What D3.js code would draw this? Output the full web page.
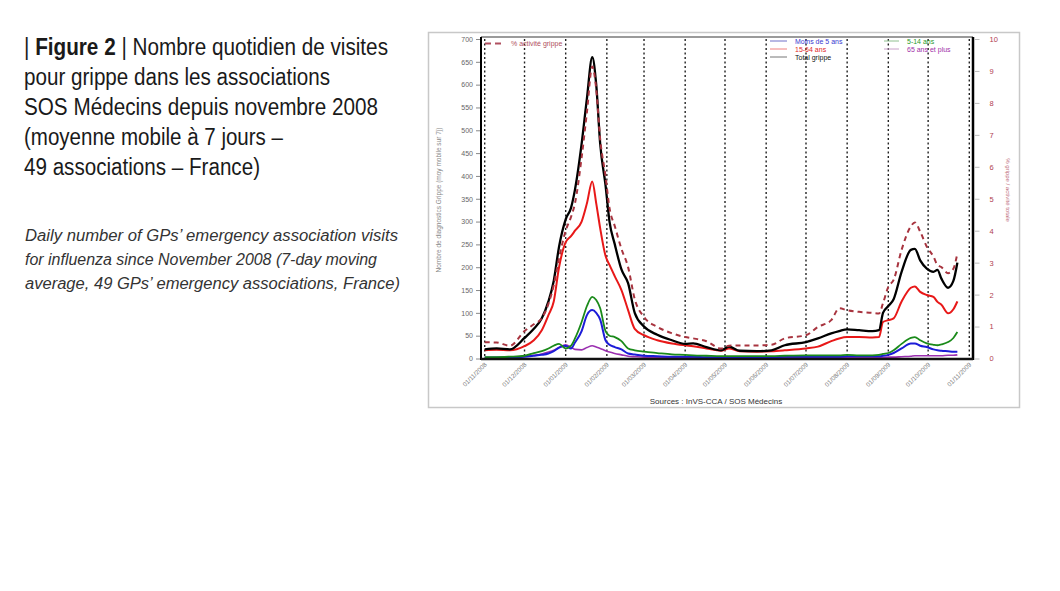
<!DOCTYPE html>
<html><head><meta charset="utf-8">
<script src="https://cdn.jsdelivr.net/npm/d3@7/dist/d3.min.js"></script>
<style>body{margin:0;background:#fff}svg{display:block}</style>
</head><body>
<svg id="c" width="1060" height="591"></svg>
<script>
// ---- data ----
const dates = ["2008-11-01","2008-11-10","2008-11-20","2008-12-01","2008-12-08","2008-12-14","2008-12-19","2008-12-23","2008-12-27",
"2009-01-01","2009-01-05","2009-01-08","2009-01-13","2009-01-17","2009-01-21","2009-01-24","2009-01-27","2009-01-31",
"2009-02-03","2009-02-07","2009-02-12","2009-02-17","2009-02-22","2009-03-01","2009-03-11","2009-03-22","2009-04-01",
"2009-04-07","2009-04-17","2009-04-28","2009-05-04","2009-05-12","2009-05-25","2009-06-05","2009-06-15","2009-07-01",
"2009-07-10","2009-07-20","2009-07-26","2009-08-01","2009-08-10","2009-08-20","2009-08-25","2009-08-28","2009-09-01",
"2009-09-05","2009-09-11","2009-09-18","2009-09-21","2009-09-25","2009-09-30","2009-10-05","2009-10-08","2009-10-11",
"2009-10-16","2009-10-20","2009-10-23"];
const totalGrippe = [20,22,20,45,65,88,125,170,245,305,330,370,470,570,660,600,470,380,300,250,195,165,100,70,52,40,32,33,25,18,26,17,16,18,29,36,44,55,60,64,62,60,62,100,115,130,190,238,240,215,197,190,194,175,155,170,210];
const ans15_64 = [18,19,18,27,40,62,95,125,200,255,268,280,300,340,388,340,285,225,205,180,150,106,65,51,40,33,29,27,22,17,22,16,15,16,18,22,26,38,44,47,47,46,47,80,84,88,125,155,158,146,139,135,124,118,99,108,125];
const ans5_14 = [3,3,4,6,12,16,22,28,32,22,28,44,80,115,135,128,110,60,50,47,38,22,18,15,12,9,8,7,6,5,5,5,5,5,6,7,7,7,7,8,7,7,8,10,12,18,32,45,47,40,33,30,29,31,36,45,58];
const moins5 = [2,2,3,4,6,8,11,16,24,28,22,35,60,95,106,100,85,40,30,25,20,11,9,6,5,4,4,4,3,3,3,3,3,3,4,4,4,4,4,5,5,5,5,6,8,12,22,33,33,28,25,20,18,17,16,15,15];
const ans65plus = [1,2,3,5,7,10,14,18,24,30,25,20,19,24,28,25,22,17,14,11,8,5,4,3,3,2,2,2,2,2,2,2,2,2,2,2,2,2,2,2,2,2,2,2,3,3,4,5,6,6,6,6,6,6,7,7,8];
const pctActivite = [0.51,0.50,0.40,0.86,1.07,1.26,1.71,2.29,3.14,4.0,4.43,4.86,6.29,7.71,9.14,8.43,6.86,5.71,4.71,4.14,3.43,2.86,1.86,1.3,0.99,0.79,0.67,0.63,0.54,0.31,0.4,0.41,0.41,0.43,0.63,0.73,0.99,1.2,1.57,1.51,1.46,1.43,1.41,1.73,2.24,2.46,3.4,4.14,4.26,3.97,3.5,3.19,2.93,2.86,2.67,2.81,3.29];
const monthTicks = ["2008-11-01","2008-12-01","2009-01-01","2009-02-01","2009-03-01","2009-04-01","2009-05-01","2009-06-01","2009-07-01","2009-08-01","2009-09-01","2009-10-01","2009-11-01"];
const leftTicks = [0,50,100,150,200,250,300,350,400,450,500,550,600,650,700];
const rightTicks = [0,1,2,3,4,5,6,7,8,9,10];
const titleLines = ["Nombre quotidien de visites","pour grippe dans les associations","SOS Médecins depuis novembre 2008","(moyenne mobile à 7 jours –","49 associations – France)"];
const englishLines = ["Daily number of GPs’ emergency association visits","for influenza since November 2008 (7-day moving","average, 49 GPs’ emergency associations, France)"];

const svg = d3.select("#c");
const parse = d3.utcParse("%Y-%m-%d");
const fmt = d3.utcFormat("%d/%m/%Y");
const D = dates.map(parse);

// ---- left text ----
const F = "'Liberation Sans', Arial, sans-serif";
const tEnds = [388, 330, 378, 283, 260];
const tg = svg.append("g").attr("font-family", F).attr("fill", "#1a1a1a").attr("font-size", 23);
titleLines.forEach((s, i) => {
  const t = tg.append("text").attr("x", 24).attr("y", 55 + i * 30)
    .attr("textLength", tEnds[i] - 24).attr("lengthAdjust", "spacingAndGlyphs");
  if (i === 0) {
    t.append("tspan").text("| ");
    t.append("tspan").attr("font-weight", "bold").text("Figure 2");
    t.append("tspan").text(" | " + s);
  } else t.text(s);
});
const eEnds = [398, 377, 400];
const eg = svg.append("g").attr("font-family", F).attr("fill", "#333").attr("font-size", 16).attr("font-style", "italic");
englishLines.forEach((s, i) => {
  eg.append("text").attr("x", 25).attr("y", 241 + i * 24).text(s)
    .attr("textLength", eEnds[i] - 25).attr("lengthAdjust", "spacingAndGlyphs");
});

// ---- chart frame ----
svg.append("rect").attr("x", 428.5).attr("y", 32.5).attr("width", 591).attr("height", 375)
  .attr("fill", "#fff").attr("stroke", "#c8c8c8").attr("stroke-width", 1.5);

const L = 481, R = 973, T = 37, B = 359;
const x = d3.scaleUtc().domain([parse("2008-11-01"), parse("2009-11-01")]).range([484.7, 969.3]);
const y = d3.scaleLinear().domain([0, 700]).range([358.5, 39]);
const y2 = d3.scaleLinear().domain([0, 10]).range([358.5, 39]);

// gridlines
svg.append("g").selectAll("line").data(monthTicks.map(parse)).join("line")
  .attr("x1", d => x(d)).attr("x2", d => x(d)).attr("y1", T + 2).attr("y2", B)
  .attr("stroke", "#222").attr("stroke-width", 1.4).attr("stroke-dasharray", "2,2.5");

// lines
const line = (arr, sc) => d3.line().x((d, i) => x(D[i])).y(d => sc(d)).curve(d3.curveMonotoneX)(arr);
const series = [
  {v: ans65plus, c: "#9b30b0", w: 1.6},
  {v: moins5, c: "#1c1cd8", w: 2},
  {v: ans5_14, c: "#1a8a1a", w: 1.8},
  {v: ans15_64, c: "#e81818", w: 2},
  {v: totalGrippe, c: "#000", w: 2.3}
];
series.forEach(s => svg.append("path").attr("d", line(s.v, y)).attr("fill", "none")
  .attr("stroke", s.c).attr("stroke-width", s.w).attr("stroke-linejoin", "round"));
svg.append("path").attr("d", line(pctActivite, y2)).attr("fill", "none")
  .attr("stroke", "#a8343f").attr("stroke-width", 2).attr("stroke-dasharray", "5,4");

// borders
svg.append("line").attr("x1", L).attr("x2", R).attr("y1", T).attr("y2", T).attr("stroke", "#9a9a9a").attr("stroke-width", 2);
svg.append("line").attr("x1", L).attr("x2", L).attr("y1", T).attr("y2", B + 1).attr("stroke", "#000").attr("stroke-width", 2);
svg.append("line").attr("x1", R).attr("x2", R).attr("y1", T).attr("y2", B + 1).attr("stroke", "#000").attr("stroke-width", 2.5);
svg.append("line").attr("x1", L).attr("x2", R).attr("y1", B).attr("y2", B).attr("stroke", "#111").attr("stroke-width", 2.5);

// left axis
const ga = svg.append("g").attr("transform", `translate(${L - 1},0)`)
  .call(d3.axisLeft(y).tickValues(leftTicks).tickSize(4).tickPadding(3));
ga.select(".domain").remove();
ga.selectAll("line").attr("stroke", "#888");
ga.selectAll("text").attr("font-family", F).attr("font-size", 7).attr("fill", "#666");

// right axis
const gr = svg.append("g").attr("transform", `translate(${R + 1.5},0)`)
  .call(d3.axisRight(y2).tickValues(rightTicks).tickSize(5).tickPadding(10));
gr.select(".domain").remove();
gr.selectAll("line").attr("stroke", "#bbb");
gr.selectAll("text").attr("font-family", F).attr("font-size", 7.5).attr("fill", "#b04050");

// x axis labels
const gx = svg.append("g").attr("transform", `translate(0,${B})`)
  .call(d3.axisBottom(x).tickValues(monthTicks.map(parse)).tickSize(0).tickFormat(fmt));
gx.select(".domain").remove();
gx.selectAll("text").attr("font-family", F).attr("font-size", 6.3).attr("fill", "#777")
  .attr("text-anchor", "end").attr("transform", "translate(2,6) rotate(-45)").attr("dy", 0).attr("y", 0).attr("x", 0);

// axis titles
svg.append("text").attr("transform", "translate(441,200) rotate(-90)").attr("text-anchor", "middle")
  .attr("font-family", F).attr("font-size", 6.5).attr("fill", "#888").text("Nombre de diagnostics Grippe (moy mobile sur 7j)");
svg.append("text").attr("transform", "translate(1006,190) rotate(90)").attr("text-anchor", "middle")
  .attr("font-family", F).attr("font-size", 6).attr("fill", "#c07080").text("% grippe / activité totale");
svg.append("text").attr("x", 716).attr("y", 404).attr("text-anchor", "middle")
  .attr("font-family", F).attr("font-size", 8).attr("fill", "#333").text("Sources : InVS-CCA / SOS Médecins");

// legend
const lg = svg.append("g").attr("font-family", F).attr("font-size", 7);
lg.append("line").attr("x1", 485).attr("x2", 502).attr("y1", 43.5).attr("y2", 43.5)
  .attr("stroke", "#b05060").attr("stroke-width", 1.8).attr("stroke-dasharray", "6,4");
lg.append("text").attr("x", 511).attr("y", 46).attr("fill", "#b05060").text("% activité grippe");
const leg = [
  {t: "Moins de 5 ans", c: "#3838d0", lc: "#7070c8", x: 795, y: 43, lx1: 770},
  {t: "15-64 ans", c: "#e02828", lc: "#f08080", x: 795, y: 51, lx1: 770},
  {t: "Total grippe", c: "#111", lc: "#777", x: 795, y: 59, lx1: 770},
  {t: "5-14 ans", c: "#2a9a2a", lc: "#90c090", x: 907, y: 43, lx1: 884},
  {t: "65 ans et plus", c: "#a030a8", lc: "#c8a0c8", x: 907, y: 51, lx1: 884}
];
leg.forEach(d => {
  lg.append("line").attr("x1", d.lx1).attr("x2", d.x - 8).attr("y1", d.y - 2).attr("y2", d.y - 2)
    .attr("stroke", d.lc).attr("stroke-width", 1);
  lg.append("text").attr("x", d.x).attr("y", d.y + 0.5).attr("fill", d.c).text(d.t);
});
</script>
</body></html>
